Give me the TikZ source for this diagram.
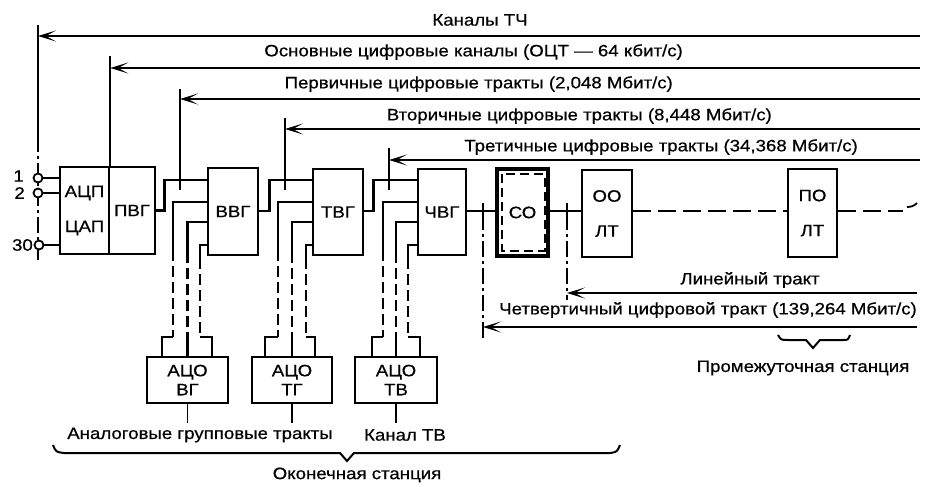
\documentclass[tikz,border=0pt]{standalone}
\usepackage{fontspec}
\setmainfont{Liberation Sans}[FakeStretch=1.13,FakeBold=0.6]
\usetikzlibrary{arrows.meta,calc}
\newcommand\figfont{\fontsize{16.5}{19}\selectfont}
\newcommand\figfonttwo{\fontsize{16.5}{35}\selectfont}
\newcommand\grouplines[7]{%
  \draw[conn] (#1.west |- 0,202) -| (#3,250);
  \draw[conn,grpdash] (#3,250) -- (#3,337);
  \draw[conn] (#3,337) -| (#2.north -| #6,0);
  \draw[conn] (#1.west |- 0,222) -| (#4,252);
  \draw[conn,grpdash] (#4,252) -- (#4,340);
  \draw[conn] (#4,340) -- (#2.north -| #4,0);
  \draw[conn] (#1.west |- 0,245) -| (#5,258);
  \draw[conn,grpdash] (#5,258) -- (#5,337);
  \draw[conn] (#5,337) -| (#2.north -| #7,0);
}
\tikzset{
  box/.style={draw,line width=2.6pt,inner sep=0pt,align=center,font=\figfont},
  conn/.style={line width=2.4pt},
  thinl/.style={line width=1.8pt},
  arr/.style={line width=1.8pt,-{Stealth[length=18pt,width=11pt,inset=10pt]}},
  grpdash/.style={dash pattern=on 11pt off 5pt},
  dd/.style={line width=1.8pt,dash pattern=on 16pt off 4pt on 3pt off 4pt},
  lbl/.style={inner sep=0pt,font=\figfont},
  term/.style={circle,draw,line width=1.8pt,fill=white,minimum size=9pt,inner sep=0pt},
}
\begin{document}
\begin{tikzpicture}[x=1pt,y=-1pt]
\useasboundingbox (0,0) rectangle (927,487);

% ---- top channel arrows
\coordinate (v0t) at (38,25); \coordinate (v0a) at (38,36);
\coordinate (v0s) at (38,136); \coordinate (v0b) at (38,262);
\coordinate (r0) at (920,36);
\draw[thinl] (v0t) -- (v0s);
\draw[dd] (v0s) -- (v0b);
\draw[arr] (r0) -- (v0a);

% ---- boxes
\node[box,minimum width=49pt,minimum height=87pt,font=\figfonttwo] (adc) at (84.5,210.5) {АЦП\\ЦАП};
\node[box,minimum width=46pt,minimum height=87pt] (pvg) at (132,210.5) {ПВГ};
\node[box,minimum width=50pt,minimum height=87pt] (vvg) at (233,211.5) {ВВГ};
\node[box,minimum width=50pt,minimum height=86pt] (tvg) at (338,212) {ТВГ};
\node[box,minimum width=48pt,minimum height=86pt] (cvg) at (442,212) {ЧВГ};
\node[box,line width=3.2pt,minimum width=51pt,minimum height=87pt] (so) at (522.5,212.5) {СО};
\node[box,minimum width=50pt,minimum height=87pt,font=\figfonttwo] (oo) at (607,213.5) {ОО\\ЛТ};
\node[box,minimum width=49pt,minimum height=88pt,font=\figfonttwo] (po) at (812.5,213) {ПО\\ЛТ};
\node[box,minimum width=81pt,minimum height=46pt] (acovg) at (187.5,380) {АЦО\\ВГ};
\node[box,minimum width=80pt,minimum height=46pt] (acotg) at (292,380) {АЦО\\ТГ};
\node[box,minimum width=82pt,minimum height=46pt] (acotv) at (396,380) {АЦО\\ТВ};
\draw[line width=2pt,dash pattern=on 9pt off 5pt] ($(so.north west)+(7,7)$) rectangle ($(so.south east)+(-5,-7)$);

% ---- terminals
\node[term] (t1) at (38,178) {};
\node[term] (t2) at (38,193) {};
\node[term] (t30) at (39,245) {};
\draw[conn] (t1) -- (adc.west |- t1);
\draw[conn] (t2) -- (adc.west |- t2);
\draw[conn] (t30) -- (adc.west |- t30);
\node[lbl,anchor=east] (n1) at (24,176) {1};
\node[lbl,anchor=east] (n2) at (25,193) {2};
\node[lbl,anchor=east] (n30) at (33,245) {30};

% ---- remaining top arrows
\coordinate (v1t) at (adc.north east |- 0,56); \coordinate (v1a) at (adc.north east |- 0,68);
\coordinate (r1) at (920,68);
\draw[thinl] (v1t) -- (adc.north east);
\draw[arr] (r1) -- (v1a);

\coordinate (v2t) at (180,89); \coordinate (v2a) at (180,99); \coordinate (v2b) at (180,190);
\coordinate (r2) at (920,99);
\draw[thinl] (v2t) -- (v2b);
\draw[arr] (r2) -- (v2a);

\coordinate (v3t) at (285,118); \coordinate (v3a) at (285,129); \coordinate (v3b) at (285,190);
\coordinate (r3) at (920,129);
\draw[thinl] (v3t) -- (v3b);
\draw[arr] (r3) -- (v3a);

\coordinate (v4t) at (389,148); \coordinate (v4a) at (389,160); \coordinate (v4b) at (389,190);
\coordinate (r4) at (920,160);
\draw[thinl] (v4t) -- (v4b);
\draw[arr] (r4) -- (v4a);

% ---- main chain
\draw[conn] (pvg.east) -- ++(8,0) |- (vvg.west |- 0,180);
\draw[conn] (vvg.east |- 0,211) -- ++(10,0) |- (tvg.west |- 0,180);
\draw[conn] (tvg.east |- 0,211) -- ++(9,0) |- (cvg.west |- 0,180);
\draw[conn] (cvg.east |- 0,211) -- (so.west |- 0,211);
\draw[conn] (so.east |- 0,211) -- (oo.west |- 0,211);
\draw[conn,dash pattern=on 18pt off 7pt] (oo.east |- 0,211) -- (po.west |- 0,211);
\coordinate (rend) at (903,211);
\draw[conn,dash pattern=on 18pt off 7pt] (po.east |- 0,211) -- (rend);
\draw[thinl] (907,207) .. controls (911,207) and (914,206) .. (917,203);

% ---- analog group lines
\grouplines{vvg}{acovg}{173}{187.5}{200}{162}{212}
\grouplines{tvg}{acotg}{278}{292}{306}{265}{315}
\grouplines{cvg}{acotv}{383}{396}{408}{372}{420}

% ---- stems under analog boxes
\coordinate (s1) at (acovg.south |- 0,423);
\coordinate (s2) at (acotg.south |- 0,423);
\coordinate (s3) at (acotv.south |- 0,423);
\draw[thinl] (acovg.south) -- (s1);
\draw[thinl] (acotg.south) -- (s2);
\draw[thinl] (acotv.south) -- (s3);

% ---- lower arrows
\coordinate (v5t) at (483,203); \coordinate (v5s) at (483,214); \coordinate (v5a) at (483,327); \coordinate (v5b) at (483,340);
\coordinate (r5) at (917,327);
\draw[thinl] (v5t) -- (v5s);
\draw[dd] (v5s) -- (v5b);
\draw[arr] (r5) -- (v5a);
\coordinate (v6t) at (567,203); \coordinate (v6s) at (567,214); \coordinate (v6a) at (567,293); \coordinate (v6b) at (567,300);
\coordinate (r6) at (917,293);
\draw[thinl] (v6t) -- (v6s);
\draw[dd] (v6s) -- (v6b);
\draw[arr] (r6) -- (v6a);

% ---- texts
\node[lbl] (tTch) at (480,20) {Каналы ТЧ};
\node[lbl,anchor=east] (tOsn) at (683,52) {Основные цифровые каналы (ОЦТ — 64 кбит/с)};
\node[lbl,anchor=east] (tPerv) at (673,84) {Первичные цифровые тракты (2,048 Мбит/с)};
\node[lbl,anchor=east] (tVtor) at (772,116) {Вторичные цифровые тракты (8,448 Мбит/с)};
\node[lbl,anchor=east] (tTret) at (858,147) {Третичные цифровые тракты (34,368 Мбит/с)};
\node[lbl] (tLin) at (750,280) {Линейный тракт};
\node[lbl,anchor=east] (tChet) at (917,310) {Четвертичный цифровой тракт (139,264 Мбит/с)};
\node[lbl] (tProm) at (803,368) {Промежуточная станция};
\node[lbl] (tAnal) at (200,435) {Аналоговые групповые тракты};
\node[lbl] (tKan) at (405,435) {Канал ТВ};
\node[lbl] (tOkon) at (357,475) {Оконечная станция};

% ---- braces
\draw[line width=2pt] (53,445) .. controls (56,452) .. (64,453) -- (340,453) -- (347,461) -- (354,453) -- (610,453) .. controls (617,452) .. (620,445);
\draw[line width=2pt] (778,335) .. controls (781,340) .. (788,340) -- (806,340) -- (813,348) -- (820,340) -- (843,340) .. controls (848,340) .. (850,335);
\end{tikzpicture}
\end{document}
